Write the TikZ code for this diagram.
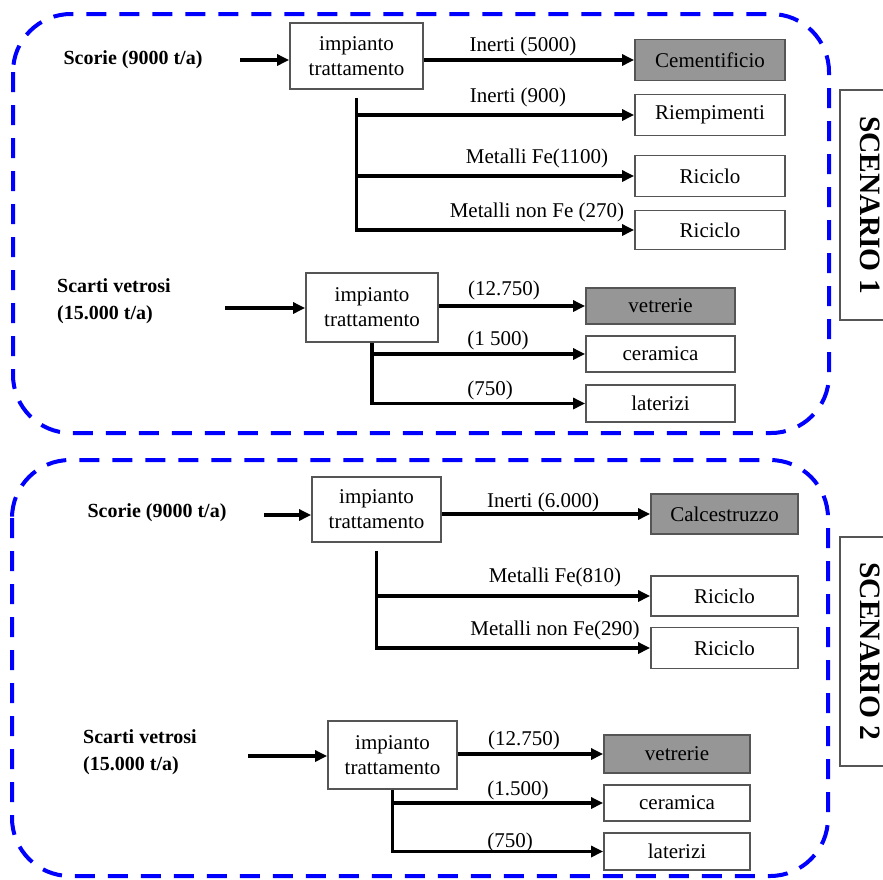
\documentclass[tikz,border=0pt]{standalone}
\usepackage{fontspec}
\setmainfont{Liberation Serif}
\usetikzlibrary{arrows.meta}
\definecolor{dblue}{RGB}{0,0,255}
\definecolor{fillg}{RGB}{150,150,150}
\definecolor{edgeg}{RGB}{85,85,85}
\tikzset{
 scen/.style={draw=dblue, line width=4pt, dash pattern=on 20pt off 13pt, rounded corners=58pt},
 proc/.style={draw=edgeg, line width=1.8pt, fill=white, align=center, inner sep=0pt, font=\fontsize{21}{25}\selectfont},
 dest/.style={draw=edgeg, line width=1.8pt, fill=white, inner sep=0pt, font=\fontsize{21}{25}\selectfont},
 destg/.style={dest, fill=fillg},
 lab/.style={inner sep=0pt, font=\fontsize{21}{25}\selectfont},
 inlab/.style={inner sep=0pt, font=\bfseries\fontsize{20}{27}\selectfont, align=left},
 arr/.style={line width=3.2pt, -{Triangle[length=12pt,width=11pt]}},
 scenbox/.style={draw=edgeg, line width=2.5pt, rotate=-90, minimum height=60pt, font=\bfseries\fontsize{29.5}{32}\selectfont, inner sep=0pt},
}
\begin{document}
\begin{tikzpicture}[x=1pt,y=-1pt]
\useasboundingbox (0,0) rectangle (883,879);
\fill[white] (0,0) rectangle (883,879);
% scenario frames
\draw[scen] (13,14) rectangle (829,433);
\draw[scen] (12,460) rectangle (828,876);
\node[scenbox, minimum width=230pt] (s1) at (870,205) {SCENARIO 1};
\node[scenbox, minimum width=229pt] (s2) at (870,651.5) {SCENARIO 2};

% ---------- Scenario 1: scorie
\node[inlab] (in1) at (133,60) {Scorie (9000 t/a)};
\coordinate (a1) at (240,60);
\node[proc, minimum width=133pt, minimum height=66pt] (p1) at (356.5,56) {impianto\\trattamento};
\node[destg, minimum width=150pt, minimum height=41pt] (c1) at (710,60) {Cementificio};
\node[dest, minimum width=150pt, minimum height=41pt] (r1) at (710,115) {Riempimenti};
\node[dest, minimum width=150pt, minimum height=41pt] (rc1) at (710,176) {Riciclo};
\node[dest, minimum width=150pt, minimum height=39pt] (rc2) at (710,230) {Riciclo};
\draw[arr] (a1) -- (a1 -| p1.west);
\draw[arr] (p1.east |- c1.west) -- (c1.west);
\draw[arr] ([yshift=-8pt]p1.south) |- (rc2.west);
\draw[arr] (p1.south |- r1.west) -- (r1.west);
\draw[arr] (p1.south |- rc1.west) -- (rc1.west);
\node[lab] (l1) at (523,46) {Inerti (5000)};
\node[lab] (l2) at (518,97) {Inerti (900)};
\node[lab] (l3) at (537,158) {Metalli Fe(1100)};
\node[lab] (l4) at (537,212) {Metalli non Fe (270)};

% ---------- Scenario 1: vetro
\node[inlab, anchor=west] (in2) at (57,301) {Scarti vetrosi\\(15.000 t/a)};
\coordinate (a2) at (225,308);
\node[proc, minimum width=132pt, minimum height=69pt] (p2) at (372,307.5) {impianto\\trattamento};
\node[destg, minimum width=149pt, minimum height=36pt] (v1) at (660.5,306) {vetrerie};
\node[dest, minimum width=149pt, minimum height=36pt] (ce1) at (660.5,354) {ceramica};
\node[dest, minimum width=149pt, minimum height=37pt] (la1) at (660.5,403.5) {laterizi};
\draw[arr] (a2) -- (a2 -| p2.west);
\draw[arr] (p2.east |- v1.west) -- (v1.west);
\draw[arr] (p2.south) |- (la1.west);
\draw[arr] (p2.south |- ce1.west) -- (ce1.west);
\node[lab] (l5) at (504,290) {(12.750)};
\node[lab] (l6) at (498,340) {(1 500)};
\node[lab] (l7) at (490,390) {(750)};

% ---------- Scenario 2: scorie
\node[inlab] (in3) at (157,513) {Scorie (9000 t/a)};
\coordinate (a3) at (264,515);
\node[proc, minimum width=129pt, minimum height=65pt] (p3) at (376.5,509.5) {impianto\\trattamento};
\node[destg, minimum width=147pt, minimum height=40pt] (ca) at (724.5,514) {Calcestruzzo};
\node[dest, minimum width=147pt, minimum height=40pt] (rc3) at (724.5,596) {Riciclo};
\node[dest, minimum width=147pt, minimum height=41pt] (rc4) at (724.5,648) {Riciclo};
\draw[arr] (a3) -- (a3 -| p3.west);
\draw[arr] (p3.east |- ca.west) -- (ca.west);
\draw[arr] ([yshift=-8pt]p3.south) |- (rc4.west);
\draw[arr] (p3.south |- rc3.west) -- (rc3.west);
\node[lab] (l8) at (543,502) {Inerti (6.000)};
\node[lab] (l9) at (555,577) {Metalli Fe(810)};
\node[lab] (l10) at (555,630) {Metalli non Fe(290)};

% ---------- Scenario 2: vetro
\node[inlab, anchor=west] (in4) at (83,752.5) {Scarti vetrosi\\(15.000 t/a)};
\coordinate (a4) at (248,756);
\node[proc, minimum width=129pt, minimum height=68pt] (p4) at (392.5,755) {impianto\\trattamento};
\node[destg, minimum width=146pt, minimum height=38pt] (v2) at (677,754) {vetrerie};
\node[dest, minimum width=146pt, minimum height=36pt] (ce2) at (677,803) {ceramica};
\node[dest, minimum width=146pt, minimum height=37pt] (la2) at (677,851.5) {laterizi};
\draw[arr] (a4) -- (a4 -| p4.west);
\draw[arr] (p4.east |- v2.west) -- (v2.west);
\draw[arr] (p4.south) |- (la2.west);
\draw[arr] (p4.south |- ce2.west) -- (ce2.west);
\node[lab] (l11) at (524,740) {(12.750)};
\node[lab] (l12) at (518,790) {(1.500)};
\node[lab] (l13) at (510,842) {(750)};
\end{tikzpicture}
\end{document}
